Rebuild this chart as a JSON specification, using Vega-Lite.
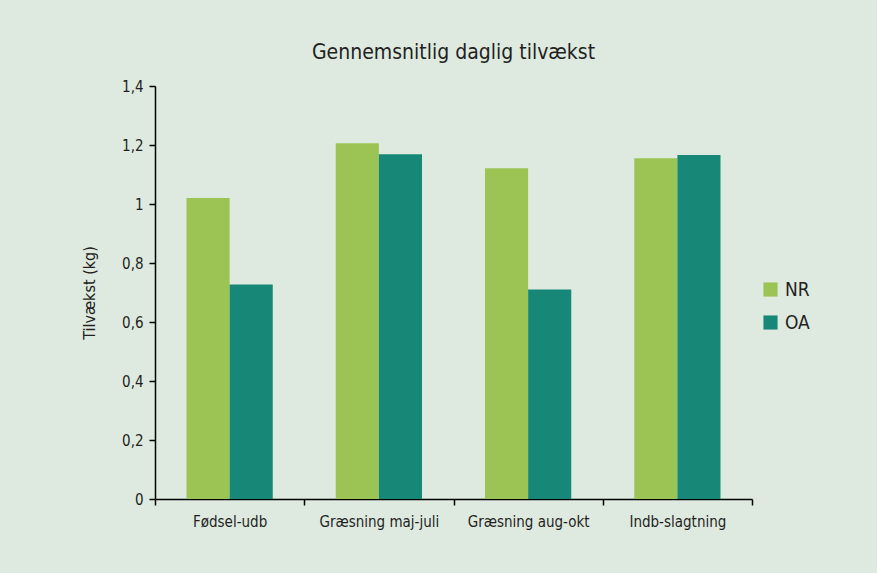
{
  "$schema": "https://vega.github.io/schema/vega-lite/v6.json",
  "autosize": "none",
  "width": 597,
  "height": 413,
  "padding": {"left": 155, "top": 86, "right": 125, "bottom": 74},
  "background": "#deeae0",
  "title": {
    "text": "Gennemsnitlig daglig tilvækst",
    "anchor": "middle",
    "fontSize": 21,
    "fontWeight": 500,
    "color": "#231f20",
    "offset": 16,
    "font": "DejaVu Sans Condensed, Liberation Sans Narrow, Roboto, sans-serif"
  },
  "config": {
    "view": {"stroke": null},
    "font": "DejaVu Sans Condensed, Liberation Sans Narrow, Roboto, sans-serif"
  },
  "data": {
    "values": [
      {"periode": "Fødsel-udb", "gruppe": "NR", "tilvaekst": 1.02},
      {"periode": "Fødsel-udb", "gruppe": "OA", "tilvaekst": 0.727},
      {"periode": "Græsning maj-juli", "gruppe": "NR", "tilvaekst": 1.206},
      {"periode": "Græsning maj-juli", "gruppe": "OA", "tilvaekst": 1.169},
      {"periode": "Græsning aug-okt", "gruppe": "NR", "tilvaekst": 1.121},
      {"periode": "Græsning aug-okt", "gruppe": "OA", "tilvaekst": 0.71},
      {"periode": "Indb-slagtning", "gruppe": "NR", "tilvaekst": 1.155},
      {"periode": "Indb-slagtning", "gruppe": "OA", "tilvaekst": 1.166}
    ]
  },
  "mark": {"type": "bar"},
  "encoding": {
    "x": {
      "field": "periode",
      "type": "nominal",
      "sort": null,
      "scale": {"paddingInner": 0, "paddingOuter": 0},
      "axis": {
        "title": null,
        "labelAngle": 0,
        "labelFontSize": 15,
        "labelColor": "#231f20",
        "labelPadding": 9,
        "tickBand": "extent",
        "tickSize": 6,
        "tickColor": "#000000",
        "domainColor": "#000000",
        "domainWidth": 1.5,
        "tickWidth": 1.5
      }
    },
    "xOffset": {
      "field": "gruppe",
      "type": "nominal",
      "scale": {"paddingInner": 0, "paddingOuter": 0.73}
    },
    "y": {
      "field": "tilvaekst",
      "type": "quantitative",
      "scale": {"domain": [0, 1.4], "nice": false},
      "axis": {
        "title": "Tilvækst (kg)",
        "titleFontSize": 16,
        "titleFontWeight": "normal",
        "titleColor": "#231f20",
        "titlePadding": 24,
        "values": [0, 0.2, 0.4, 0.6, 0.8, 1, 1.2, 1.4],
        "labelExpr": "replace(format(datum.value, '~g'), '.', ',')",
        "labelFontSize": 15,
        "labelColor": "#231f20",
        "labelPadding": 6,
        "grid": false,
        "tickSize": 6,
        "tickColor": "#000000",
        "domainColor": "#000000",
        "domainWidth": 1.5,
        "tickWidth": 1.5
      }
    },
    "color": {
      "field": "gruppe",
      "type": "nominal",
      "scale": {"domain": ["NR", "OA"], "range": ["#9bc454", "#178878"]},
      "legend": {
        "title": null,
        "orient": "none",
        "legendX": 606,
        "legendY": 194,
        "symbolType": "square",
        "symbolSize": 200,
        "symbolStrokeWidth": 0,
        "labelFontSize": 19,
        "labelColor": "#231f20",
        "labelOffset": 5,
        "rowPadding": 13
      }
    }
  }
}
